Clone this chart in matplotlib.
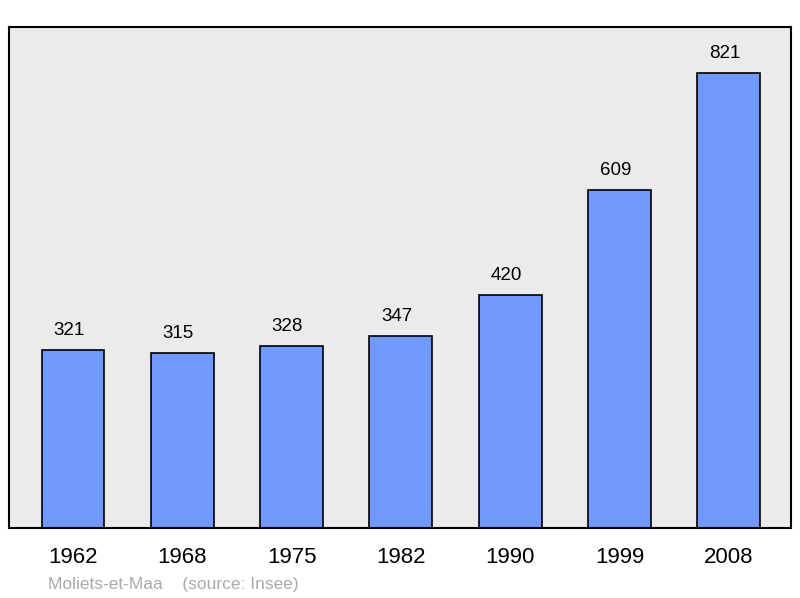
import matplotlib
matplotlib.use("Agg")
import matplotlib.pyplot as plt

years = ["1962", "1968", "1975", "1982", "1990", "1999", "2008"]
population = [321, 315, 328, 347, 420, 609, 821]

fig = plt.figure(figsize=(8, 5.98), dpi=100)
ax = fig.add_axes([9/800, 1-528/598, 782/800, 501/598])
ax.set_facecolor("#ebebeb")
x = list(range(len(years)))
ax.bar(x, population, width=0.575, color="#7099ff", edgecolor="black", linewidth=1.2, zorder=2)
for xi, v in zip(x, population):
    ax.annotate(str(v), (xi, v), xytext=(-3, 8), textcoords="offset points",
                ha="center", va="bottom", fontsize=13.5, family="Liberation Sans")
ax.set_xlim(-0.585, 6.569)
ax.set_ylim(0, 904)
ax.set_yticks([])
ax.set_xticks(x)
ax.set_xticklabels(years, fontsize=16, family="Liberation Sans")
ax.tick_params(axis="x", length=0, pad=14)
for s in ax.spines.values():
    s.set_linewidth(1.5)
fig.text(48/800, 1-584/598, "Moliets-et-Maa    (source: Insee)", color="#aaaaaa",
         fontsize=12.5, family="Liberation Sans", va="center")
fig.savefig("out.png", dpi=100)
